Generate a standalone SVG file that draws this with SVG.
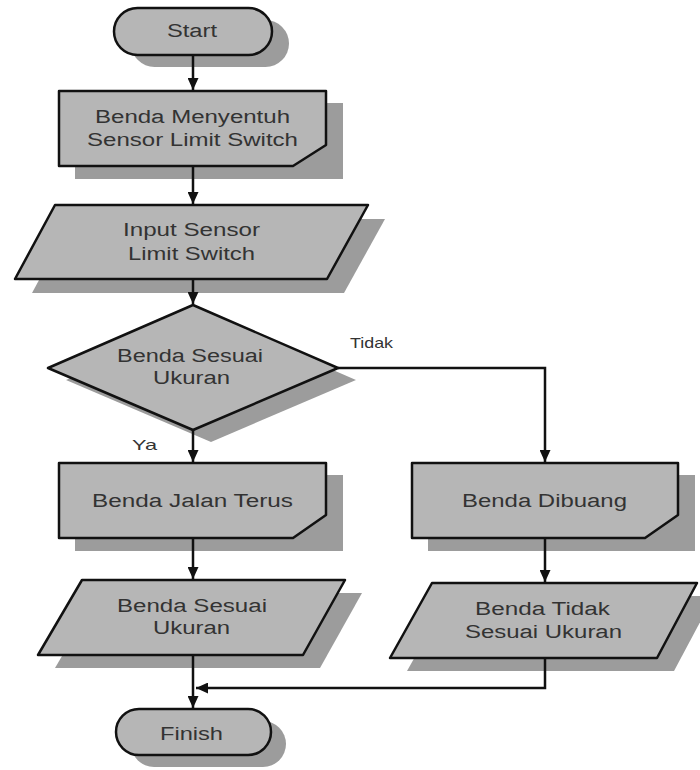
<svg xmlns="http://www.w3.org/2000/svg" width="700" height="770" viewBox="0 0 700 770">
  <style>
    .shape { fill: #b6b6b6; stroke: #111; stroke-width: 2.5; stroke-linejoin: round; }
    .shadow { fill: #9c9c9c; stroke: none; }
    .label { font-family: "Liberation Sans", Arial, sans-serif; font-size: 18px; fill: #333; text-anchor: middle; }
    .note { font-family: "Liberation Sans", Arial, sans-serif; font-size: 15px; fill: #333; }
    .wire { fill: none; stroke: #111; stroke-width: 2.5; }
  </style>
  <defs>
    <marker id="arrow" markerUnits="userSpaceOnUse" markerWidth="12" markerHeight="11" refX="12" refY="5.5" orient="auto">
      <path d="M0,0 L12,5.5 L0,11 z" fill="#111"/>
    </marker>
  </defs>
  <rect width="700" height="770" fill="#fff"/>

  <!-- Start terminator -->
  <g id="start">
    <rect class="shadow" x="131" y="20" width="158" height="47" rx="23.5"/>
    <rect class="shape" x="114" y="8" width="158" height="47" rx="23.5"/>
    <text class="label" x="192" y="37" textLength="50" lengthAdjust="spacingAndGlyphs">Start</text>
  </g>

  <!-- Process: object touches sensor -->
  <g id="touch">
    <rect class="shadow" x="75" y="103" width="268" height="76"/>
    <path class="shape" d="M59,91 H326 V145 L293,166 H59 Z"/>
    <text class="label" x="192.5" y="123" textLength="195" lengthAdjust="spacingAndGlyphs">Benda Menyentuh</text>
    <text class="label" x="192.5" y="146" textLength="211" lengthAdjust="spacingAndGlyphs">Sensor Limit Switch</text>
  </g>

  <!-- Input: sensor signal -->
  <g id="input">
    <polygon class="shadow" points="72,219 385,219 344,293 32,293"/>
    <polygon class="shape" points="55,205 368,205 327,279 15,279"/>
    <text class="label" x="191.5" y="236" textLength="137" lengthAdjust="spacingAndGlyphs">Input Sensor</text>
    <text class="label" x="191.5" y="260" textLength="127" lengthAdjust="spacingAndGlyphs">Limit Switch</text>
  </g>

  <!-- Decision: size check -->
  <g id="check">
    <polygon class="shadow" points="211,317 356,380 211,442 66,380"/>
    <polygon class="shape" points="193,305 338,368 193,430 48,368"/>
    <text class="label" x="190" y="362" textLength="146" lengthAdjust="spacingAndGlyphs">Benda Sesuai</text>
    <text class="label" x="191.5" y="384" textLength="77" lengthAdjust="spacingAndGlyphs">Ukuran</text>
  </g>

  <!-- Process: object continues -->
  <g id="pass">
    <rect class="shadow" x="75" y="475" width="268" height="76"/>
    <path class="shape" d="M59,463 H326 V515 L293,538 H59 Z"/>
    <text class="label" x="192.5" y="507" textLength="201" lengthAdjust="spacingAndGlyphs">Benda Jalan Terus</text>
  </g>

  <!-- Process: object rejected -->
  <g id="reject">
    <rect class="shadow" x="428" y="475" width="267" height="76"/>
    <path class="shape" d="M412,463 H678 V515 L645,538 H412 Z"/>
    <text class="label" x="544.5" y="507" textLength="165" lengthAdjust="spacingAndGlyphs">Benda Dibuang</text>
  </g>

  <!-- Output: size OK -->
  <g id="out-ok">
    <polygon class="shadow" points="99,593 362,593 320,668 55,668"/>
    <polygon class="shape" points="82,580 345,580 303,655 38,655"/>
    <text class="label" x="192" y="612" textLength="150" lengthAdjust="spacingAndGlyphs">Benda Sesuai</text>
    <text class="label" x="191.5" y="634" textLength="77" lengthAdjust="spacingAndGlyphs">Ukuran</text>
  </g>

  <!-- Output: size not OK -->
  <g id="out-bad">
    <polygon class="shadow" points="449,596 714,596 674,671 407,671"/>
    <polygon class="shape" points="432,583 697,583 657,658 390,658"/>
    <text class="label" x="542.5" y="615" textLength="135" lengthAdjust="spacingAndGlyphs">Benda Tidak</text>
    <text class="label" x="543.5" y="638" textLength="157" lengthAdjust="spacingAndGlyphs">Sesuai Ukuran</text>
  </g>

  <!-- Finish terminator -->
  <g id="finish">
    <rect class="shadow" x="131" y="721" width="155" height="46" rx="23"/>
    <rect class="shape" x="116" y="709" width="155" height="46" rx="23"/>
    <text class="label" x="191.5" y="740" textLength="63" lengthAdjust="spacingAndGlyphs">Finish</text>
  </g>

  <!-- Connectors -->
  <g id="connectors">
    <path class="wire" d="M193,55 V90" marker-end="url(#arrow)"/>
    <path class="wire" d="M193,166 V204" marker-end="url(#arrow)"/>
    <path class="wire" d="M193,279 V304" marker-end="url(#arrow)"/>
    <path class="wire" d="M193,430 V462" marker-end="url(#arrow)"/>
    <path class="wire" d="M338,368 H545 V462" marker-end="url(#arrow)"/>
    <path class="wire" d="M193,538 V579" marker-end="url(#arrow)"/>
    <path class="wire" d="M545,538 V582" marker-end="url(#arrow)"/>
    <path class="wire" d="M193,655 V708" marker-end="url(#arrow)"/>
    <path class="wire" d="M545,658 V688 H196" marker-end="url(#arrow)"/>
    <text class="note" x="350" y="348" textLength="43" lengthAdjust="spacingAndGlyphs">Tidak</text>
    <text class="note" x="132" y="450" textLength="25" lengthAdjust="spacingAndGlyphs">Ya</text>
  </g>
</svg>
